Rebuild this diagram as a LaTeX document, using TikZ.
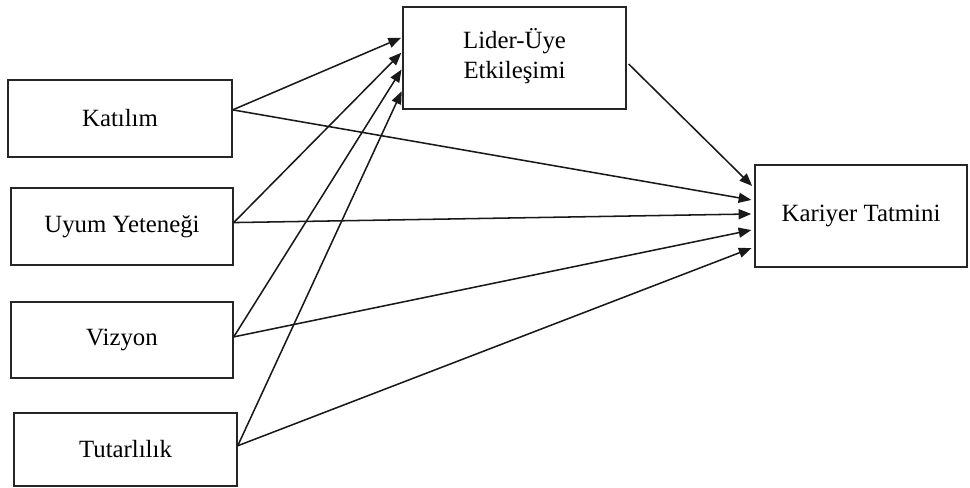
\documentclass[tikz,border=0pt]{standalone}
\usepackage{fontspec}
\setmainfont{Liberation Serif}
\usetikzlibrary{calc,arrows.meta}
\begin{document}
\begin{tikzpicture}[x=0.75pt,y=-0.75pt,
  box/.style={draw=black!85,line width=1.1pt,rectangle,inner sep=0pt,align=center,
    font=\fontsize{18.6}{22.5}\selectfont},
  arr/.style={draw=black!90,line width=1.15pt,-{Triangle[length=9.5pt,width=7.5pt]}}]
\useasboundingbox (0,0) rectangle (970,488);
\node[box,minimum width=168pt,minimum height=57.75pt] (kat) at (120,118.5) {Katılım};
\node[box,minimum width=166.5pt,minimum height=57.75pt] (uyum) at (122,226.5) {Uyum Yeteneği};
\node[box,minimum width=166.5pt,minimum height=57pt] (viz) at (122,340) {Vizyon};
\node[box,minimum width=167.25pt,minimum height=54.75pt] (tut) at (125.5,449.5) {Tutarlılık};
\node[box,minimum width=167.25pt,minimum height=76.5pt] (lider) at (514.5,58)
  {\raisebox{-3pt}{\begin{tabular}{@{}c@{}}Lider-Üye\\Etkileşimi\end{tabular}}};
\node[box,minimum width=159pt,minimum height=76.5pt] (kar) at (861,216) {Kariyer Tatmini};
% to Lider
\draw[arr,shorten >=1pt] ($(kat.north east)!0.39!(kat.south east)$) -- ($(lider.north west)!0.30!(lider.south west)$);
\draw[arr,shorten >=1pt] ($(uyum.north east)!0.45!(uyum.south east)$) -- ($(lider.north west)!0.44!(lider.south west)$);
\draw[arr,shorten >=1pt] ($(viz.north east)!0.46!(viz.south east)$) -- ($(lider.north west)!0.60!(lider.south west)$);
\draw[arr,shorten >=1pt] ($(tut.north east)!0.45!(tut.south east)$) -- ($(lider.north west)!0.81!(lider.south west)$);
% to Kariyer
\draw[arr,shorten >=2.25pt] ($(kat.north east)!0.39!(kat.south east)$) -- ($(kar.north west)!0.35!(kar.south west)$);
\draw[arr,shorten >=2.25pt] ($(uyum.north east)!0.45!(uyum.south east)$) -- ($(kar.north west)!0.48!(kar.south west)$);
\draw[arr,shorten >=2.25pt] ($(viz.north east)!0.46!(viz.south east)$) -- ($(kar.north west)!0.63!(kar.south west)$);
\draw[arr,shorten >=2.25pt] ($(tut.north east)!0.45!(tut.south east)$) -- ($(kar.north west)!0.80!(kar.south west)$);
\draw[arr,shorten >=2.25pt,shorten <=2pt] ($(lider.north east)!0.54!(lider.south east)$) -- ($(kar.north west)!0.23!(kar.south west)$);
\end{tikzpicture}
\end{document}
